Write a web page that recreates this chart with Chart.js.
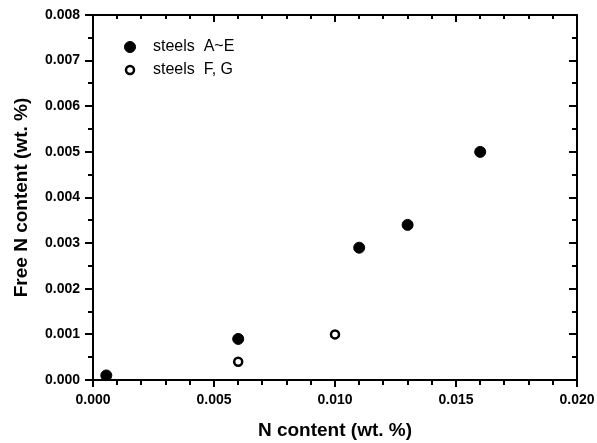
<!DOCTYPE html>
<html>
<head>
<meta charset="utf-8">
<script src="https://cdn.jsdelivr.net/npm/chart.js@4"></script>
<style>
  html, body { margin: 0; padding: 0; background: #fff; }
  #wrap { width: 597px; height: 443px; }
</style>
</head>
<body>
<div id="wrap"><canvas id="myScatter"></canvas></div>
<script>
// data
var steelsAE_x = [0.00055, 0.006, 0.011, 0.013, 0.016];
var steelsAE_y = [0.0001, 0.0009, 0.0029, 0.0034, 0.0050];
var steelsFG_x = [0.006, 0.010];
var steelsFG_y = [0.0004, 0.0010];
var seriesLabels = ['steels  A~E', 'steels  F, G'];
var xTicks = [0, 0.005, 0.010, 0.015, 0.020];
var yTicks = [0, 0.001, 0.002, 0.003, 0.004, 0.005, 0.006, 0.007, 0.008];

function toPoints(xs, ys) {
  return xs.map(function (x, i) { return { x: x, y: ys[i] }; });
}

var font = 'Arial, "Liberation Sans", sans-serif';

// frame, ticks (outer on bottom/left, inner on top/right) and the legend
var framePlugin = {
  id: 'frame',
  afterDraw: function (chart) {
    var ctx = chart.ctx, a = chart.chartArea;
    var xs = chart.scales.x, ys = chart.scales.y;
    ctx.save();
    ctx.strokeStyle = '#000';
    ctx.lineWidth = 2;
    ctx.strokeRect(a.left, a.top, a.right - a.left, a.bottom - a.top);
    ctx.beginPath();
    var i, p, len;
    for (i = 0; i <= 20; i++) {
      p = Math.round(xs.getPixelForValue(i * 0.001));
      len = (i % 5 === 0) ? 7 : 5;
      ctx.moveTo(p, a.bottom); ctx.lineTo(p, a.bottom + len);
      ctx.moveTo(p, a.top); ctx.lineTo(p, a.top + (i % 5 === 0 ? 7 : 4));
    }
    for (i = 0; i <= 16; i++) {
      p = Math.round(ys.getPixelForValue(i * 0.0005));
      len = (i % 2 === 0) ? 8 : 5;
      ctx.moveTo(a.left, p); ctx.lineTo(a.left - len, p);
      ctx.moveTo(a.right, p); ctx.lineTo(a.right - len, p);
    }
    ctx.stroke();

    // legend
    ctx.font = '16px ' + font;
    ctx.textBaseline = 'middle';
    chart.data.datasets.forEach(function (ds, k) {
      var lx = 130, ly = 47 + k * 23;
      ctx.beginPath();
      ctx.arc(lx, ly, ds.pointRadius, 0, Math.PI * 2);
      ctx.fillStyle = ds.backgroundColor;
      ctx.fill();
      ctx.lineWidth = ds.borderWidth;
      ctx.strokeStyle = ds.borderColor;
      ctx.stroke();
      ctx.fillStyle = '#000';
      ctx.fillText(ds.label, 153, ly);
    });
    ctx.restore();
  }
};

new Chart(document.getElementById('myScatter'), {
  type: 'scatter',
  data: {
    datasets: [{
      label: seriesLabels[0],
      data: toPoints(steelsAE_x, steelsAE_y),
      backgroundColor: '#000',
      borderColor: '#000',
      borderWidth: 1,
      pointRadius: 5.5,
      pointHoverRadius: 5.5
    }, {
      label: seriesLabels[1],
      data: toPoints(steelsFG_x, steelsFG_y),
      backgroundColor: '#fff',
      borderColor: '#000',
      borderWidth: 2.5,
      pointRadius: 4,
      pointHoverRadius: 4
    }]
  },
  options: {
    responsive: true,
    maintainAspectRatio: false,
    animation: false,
    layout: { padding: { left: 0, right: 20, top: 15, bottom: 0 } },
    plugins: {
      legend: { display: false },
      tooltip: { enabled: false }
    },
    scales: {
      x: {
        type: 'linear',
        min: 0, max: 0.02,
        afterBuildTicks: function (s) { s.ticks = xTicks.map(function (v) { return { value: v }; }); },
        afterFit: function (s) { s.height = 63; s.paddingLeft = 0; s.paddingRight = 0; },
        ticks: {
          color: '#000',
          font: { family: font, size: 14, weight: 'bold' },
          padding: 12,
          maxRotation: 0,
          callback: function (v) { return v.toFixed(3); }
        },
        grid: { display: false, drawTicks: false },
        border: { display: false },
        title: {
          display: true,
          text: 'N content (wt. %)',
          color: '#000',
          font: { family: font, size: 19, weight: 'bold' },
          padding: { top: 0, bottom: 1 }
        }
      },
      y: {
        type: 'linear',
        min: 0, max: 0.008,
        afterBuildTicks: function (s) { s.ticks = yTicks.map(function (v) { return { value: v }; }); },
        afterFit: function (s) { s.width = 93; s.paddingTop = 0; s.paddingBottom = 0; },
        ticks: {
          color: '#000',
          font: { family: font, size: 14, weight: 'bold' },
          padding: 13,
          callback: function (v) { return v.toFixed(3); }
        },
        grid: { display: false, drawTicks: false },
        border: { display: false },
        title: {
          display: true,
          text: 'Free N content (wt. %)',
          color: '#000',
          font: { family: font, size: 19, weight: 'bold' },
          padding: { top: 10, bottom: 0 }
        }
      }
    }
  },
  plugins: [framePlugin]
});
</script>
</body>
</html>
